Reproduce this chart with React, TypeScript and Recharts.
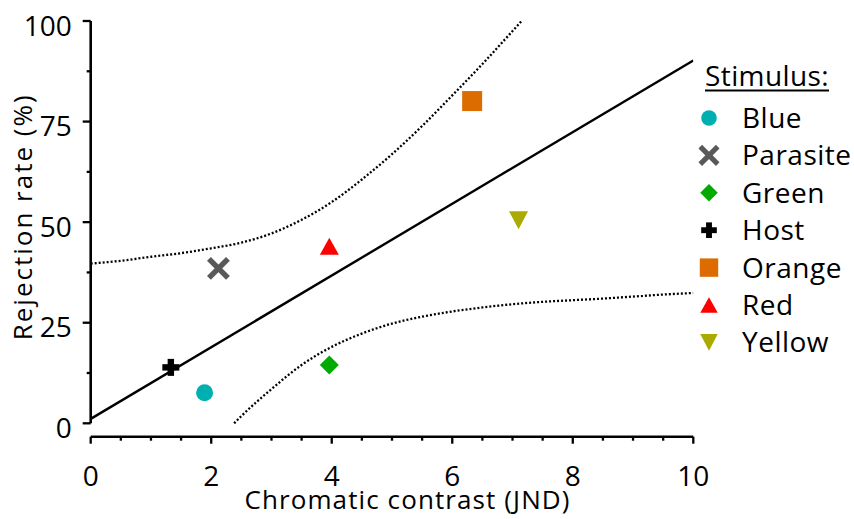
import React from 'react';
import { ComposedChart, Line, Scatter, XAxis, YAxis, ReferenceLine, Legend } from 'recharts';

// ---- Data ----
const stimuli = ['Blue', 'Parasite', 'Green', 'Host', 'Orange', 'Red', 'Yellow'];
const stimulusColors = ['#00B0B0', '#595959', '#00AA00', '#000000', '#DD6C00', '#FF0000', '#AAAA00'];
const stimulusShapes = ['circle', 'x', 'diamond', 'plus', 'square', 'triangleUp', 'triangleDown'];
const contrastJND = [1.89, 2.12, 3.96, 1.33, 6.33, 3.96, 7.1];
const rejectionRate = [7.6, 38.5, 14.5, 13.9, 80.1, 44.0, 50.5];

// regression line
const fitX = [0, 10];
const fitY = [1.1, 90.2];

// confidence band (dotted)
const upperX = [0, 0.5, 1, 1.5, 2, 2.5, 3, 3.5, 4, 4.5, 5, 5.5, 6, 6.5, 7, 7.15];
const upperY = [39.7, 40.4, 41.4, 42.3, 43.5, 44.9, 47.2, 50.6, 55.0, 60.6, 66.9, 73.9, 81.5, 89.3, 97.5, 100];
const lowerX = [2.38, 2.5, 3, 3.5, 4, 4.5, 5, 5.5, 6, 6.5, 7, 7.5, 8, 8.5, 9, 9.5, 10];
const lowerY = [0, 1.8, 8.5, 14.5, 19.0, 22.3, 24.8, 26.5, 27.8, 28.8, 29.6, 30.2, 30.6, 31.0, 31.5, 32.0, 32.4];

// axes
const xTicks = [0, 0.5, 1, 1.5, 2, 2.5, 3, 3.5, 4, 4.5, 5, 5.5, 6, 6.5, 7, 7.5, 8, 8.5, 9, 9.5, 10];
const xMajorTicks = [0, 2, 4, 6, 8, 10];
const yTicks = [0, 12.5, 25, 37.5, 50, 62.5, 75, 87.5, 100];
const yMajorTicks = [0, 25, 50, 75, 100];
const xTitle = 'Chromatic contrast (JND)';
const yTitle = 'Rejection rate (%)';
const legendTitle = 'Stimulus:';

const FONT = '"Open Sans", sans-serif';

const toPoints = (xs: number[], ys: number[]) => xs.map((x, i) => ({ x, y: ys[i] }));
const fitData = toPoints(fitX, fitY);
const upperData = toPoints(upperX, upperY);
const lowerData = toPoints(lowerX, lowerY);

function Marker({ shape, color, cx, cy, s = 1 }: { shape: string; color: string; cx: number; cy: number; s?: number }) {
  switch (shape) {
    case 'circle':
      return <circle cx={cx} cy={cy} r={8.5 * s} fill={color} />;
    case 'x': {
      const d = 9.5 * s;
      return (
        <g stroke={color} strokeWidth={5.5 * s}>
          <line x1={cx - d} y1={cy - d} x2={cx + d} y2={cy + d} />
          <line x1={cx - d} y1={cy + d} x2={cx + d} y2={cy - d} />
        </g>
      );
    }
    case 'diamond': {
      const d = 9.5 * s;
      return <polygon points={`${cx},${cy - d} ${cx + d},${cy} ${cx},${cy + d} ${cx - d},${cy}`} fill={color} />;
    }
    case 'plus': {
      const a = 8.5 * s;
      const t = 3.2 * s;
      return (
        <g fill={color}>
          <rect x={cx - a} y={cy - t} width={2 * a} height={2 * t} />
          <rect x={cx - t} y={cy - a} width={2 * t} height={2 * a} />
        </g>
      );
    }
    case 'square': {
      const a = 10 * s;
      return <rect x={cx - a} y={cy - a} width={2 * a} height={2 * a} fill={color} />;
    }
    case 'triangleUp': {
      const w = 9.5 * s;
      const h = 8.5 * s;
      return <polygon points={`${cx},${cy - h} ${cx + w},${cy + h} ${cx - w},${cy + h}`} fill={color} />;
    }
    case 'triangleDown': {
      const w = 9.5 * s;
      const h = 9 * s;
      return <polygon points={`${cx - w},${cy - h} ${cx + w},${cy - h} ${cx},${cy + h}`} fill={color} />;
    }
    default:
      return null;
  }
}

const XTick = (props: any) => {
  const { x, y, payload } = props;
  const v = payload.value;
  const major = xMajorTicks.includes(v);
  return (
    <g>
      <line x1={x} y1={y} x2={x} y2={y + (major ? 7 : 4)} stroke="#000" strokeWidth={2.3} />
      {major && (
        <text x={x} y={y + 49.5} textAnchor="middle" fontFamily={FONT} fontSize={28} fill="#000">
          {String(v)}
        </text>
      )}
    </g>
  );
};

const YTick = (props: any) => {
  const { x, y, payload } = props;
  const v = payload.value;
  const major = yMajorTicks.includes(v);
  return (
    <g>
      <line x1={x - (major ? 8 : 4)} y1={y} x2={x} y2={y} stroke="#000" strokeWidth={2.3} />
      {major && (
        <text x={x - 19} y={y + 14.5} textAnchor="end" fontFamily={FONT} fontSize={28} fill="#000">
          {String(v)}
        </text>
      )}
    </g>
  );
};

const LegendContent = () => {
  const rowY0 = 118;
  const rowStep = 37.4;
  return (
    <svg width={854} height={519} style={{ position: 'absolute', left: 0, top: 0, overflow: 'visible' }}>
      <text x={705} y={86} fontFamily={FONT} fontSize={28} letterSpacing={0.4} fill="#000">
        {legendTitle}
      </text>
      <line x1={705} y1={90.5} x2={829} y2={90.5} stroke="#000" strokeWidth={2} />
      {stimuli.map((name, i) => {
        const cy = rowY0 + i * rowStep;
        return (
          <g key={name}>
            <Marker shape={stimulusShapes[i]} color={stimulusColors[i]} cx={709} cy={cy} s={0.92} />
            <text x={742} y={cy + 10} fontFamily={FONT} fontSize={28} letterSpacing={0.5} fill="#000">
              {name}
            </text>
          </g>
        );
      })}
    </svg>
  );
};

export default function App() {
  return (
    <div style={{ position: 'absolute', left: 0, top: 0, width: 854, height: 519, background: '#fff' }}>
      <ComposedChart width={854} height={519} margin={{ top: 21, right: 160.7, bottom: 22.3, left: 0 }}>
        <XAxis
          type="number"
          dataKey="x"
          domain={[0, 10]}
          ticks={xTicks}
          interval={0}
          allowDataOverflow
          height={60}
          tickSize={0}
          tickMargin={0}
          tickLine={false}
          tick={<XTick />}
          axisLine={{ stroke: '#000', strokeWidth: 2.6 }}
          label={{
            value: xTitle,
            content: (p: any) => {
              const vb = p.viewBox;
              return (
                <text
                  x={vb.x + vb.width / 2 + 15.5}
                  y={vb.y + 72}
                  textAnchor="middle"
                  fontFamily={FONT}
                  fontSize={26}
                  letterSpacing={1.1}
                  fill="#000"
                >
                  {xTitle}
                </text>
              );
            },
          }}
        />
        <YAxis
          type="number"
          dataKey="y"
          domain={[-3.33, 100]}
          ticks={yTicks}
          interval={0}
          allowDataOverflow
          width={90.7}
          tickSize={0}
          tickMargin={0}
          tickLine={false}
          tick={<YTick />}
          axisLine={false}
          label={{
            value: yTitle,
            content: (p: any) => {
              const vb = p.viewBox;
              const cx = vb.x + 31.7;
              const cy = vb.y + vb.height / 2 - 12;
              return (
                <text
                  x={cx}
                  y={cy}
                  transform={`rotate(-90, ${cx}, ${cy})`}
                  textAnchor="middle"
                  fontFamily={FONT}
                  fontSize={26}
                  letterSpacing={2}
                  fill="#000"
                >
                  {yTitle}
                </text>
              );
            },
          }}
        />
        <ReferenceLine
          segment={[
            { x: 0, y: 0 },
            { x: 0, y: 100 },
          ]}
          stroke="#000"
          strokeWidth={2.6}
        />
        <Line
          data={upperData}
          dataKey="y"
          type="monotone"
          stroke="#000"
          strokeWidth={2.3}
          strokeDasharray="2 2"
          dot={false}
          activeDot={false}
          isAnimationActive={false}
        />
        <Line
          data={lowerData}
          dataKey="y"
          type="monotone"
          stroke="#000"
          strokeWidth={2.3}
          strokeDasharray="2 2"
          dot={false}
          activeDot={false}
          isAnimationActive={false}
        />
        <Line
          data={fitData}
          dataKey="y"
          type="linear"
          stroke="#000"
          strokeWidth={2.4}
          dot={false}
          activeDot={false}
          isAnimationActive={false}
        />
        {stimuli.map((name, i) => (
          <Scatter
            key={name}
            name={name}
            data={[{ x: contrastJND[i], y: rejectionRate[i] }]}
            dataKey="y"
            isAnimationActive={false}
            shape={(p: any) => <Marker shape={stimulusShapes[i]} color={stimulusColors[i]} cx={p.cx} cy={p.cy} />}
          />
        ))}
        <Legend
          layout="vertical"
          align="center"
          verticalAlign="middle"
          wrapperStyle={{ left: 0, top: 0, width: 854, height: 519, pointerEvents: 'none' }}
          content={<LegendContent />}
        />
      </ComposedChart>
    </div>
  );
}
